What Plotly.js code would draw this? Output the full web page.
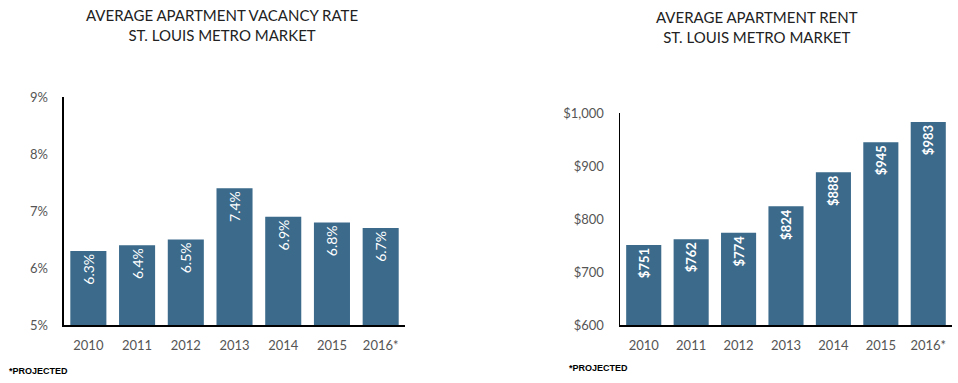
<!DOCTYPE html>
<html>
<head>
<meta charset="utf-8">
<script src="https://cdn.plot.ly/plotly-3.0.1.min.js"></script>
<style>html,body{margin:0;padding:0;background:#fff}#chart{width:958px;height:383px}</style>
</head>
<body>
<div id="chart"></div>
<script>
const years = ['2010', '2011', '2012', '2013', '2014', '2015', '2016*'];
const vacancyRate = [6.3, 6.4, 6.5, 7.4, 6.9, 6.8, 6.7];
const avgRent = [751, 762, 774, 824, 888, 945, 983];
const vacancyTicks = [5, 6, 7, 8, 9];
const vacancyTickText = ['5%', '6%', '7%', '8%', '9%'];
const rentTicks = [600, 700, 800, 900, 1000];
const rentTickText = ['$600', '$700', '$800', '$900', '$1,000'];

const barColor = '#3b6a8b';
const fontFam = 'Lato, "Open Sans", sans-serif';

const traces = [
  {
    type: 'bar', x: years, y: vacancyRate, xaxis: 'x', yaxis: 'y',
    marker: {color: barColor},
    texttemplate: '%{y:.1f}%', textposition: 'inside', insidetextanchor: 'end',
    textangle: -90, textfont: {color: '#ffffff', size: 14, family: fontFam},
    hoverinfo: 'x+y'
  },
  {
    type: 'bar', x: years, y: avgRent, xaxis: 'x2', yaxis: 'y2',
    marker: {color: barColor},
    texttemplate: '$%{y:.0f}', textposition: 'inside', insidetextanchor: 'end',
    textangle: -90, textfont: {color: '#ffffff', size: 13, family: fontFam, weight: 'bold'},
    hoverinfo: 'x+y'
  }
];

const axisCommon = {
  showline: true, linecolor: '#000', linewidth: 1.5, showgrid: false, zeroline: false,
  ticks: '', tickfont: {family: fontFam, size: 13, color: '#555'}, fixedrange: true
};

const layout = {
  width: 958, height: 383,
  margin: {l: 0, r: 0, t: 0, b: 0},
  paper_bgcolor: '#fff', plot_bgcolor: '#fff',
  showlegend: false, bargap: 0.26,
  font: {family: fontFam},
  xaxis: Object.assign({}, axisCommon, {type: 'category', domain: [0.0668, 0.4228], anchor: 'y', ticklabelstandoff: 8}),
  yaxis: Object.assign({}, axisCommon, {domain: [0.1514, 0.7467], anchor: 'x', range: [5, 9],
    tickmode: 'array', tickvals: vacancyTicks, ticktext: vacancyTickText, ticklabelstandoff: 12}),
  xaxis2: Object.assign({}, axisCommon, {type: 'category', domain: [0.6472, 0.9937], anchor: 'y2', ticklabelstandoff: 8}),
  yaxis2: Object.assign({}, axisCommon, {domain: [0.1514, 0.705], anchor: 'x2', range: [600, 1000],
    tickmode: 'array', tickvals: rentTicks, ticktext: rentTickText, ticklabelstandoff: 12}),
  annotations: [
    {text: 'AVERAGE APARTMENT VACANCY RATE<br>ST. LOUIS METRO MARKET', xref: 'paper', yref: 'paper',
     x: 222/958, y: 1 - 4/383, xanchor: 'center', yanchor: 'top', showarrow: false,
     font: {family: fontFam, size: 15, color: '#222'}, align: 'center'},
    {text: 'AVERAGE APARTMENT RENT<br>ST. LOUIS METRO MARKET', xref: 'paper', yref: 'paper',
     x: 757/958, y: 1 - 6/383, xanchor: 'center', yanchor: 'top', showarrow: false,
     font: {family: fontFam, size: 15, color: '#222'}, align: 'center'},
    {text: '*PROJECTED', xref: 'paper', yref: 'paper', x: 7/958, y: 1 - 371/383,
     xanchor: 'left', yanchor: 'middle', showarrow: false,
     font: {family: '"Liberation Sans", Arial, sans-serif', size: 9, color: '#000', weight: 'bold'}},
    {text: '*PROJECTED', xref: 'paper', yref: 'paper', x: 567/958, y: 1 - 368/383,
     xanchor: 'left', yanchor: 'middle', showarrow: false,
     font: {family: '"Liberation Sans", Arial, sans-serif', size: 9, color: '#000', weight: 'bold'}}
  ]
};

Plotly.newPlot('chart', traces, layout, {displayModeBar: false, staticPlot: true});
</script>
</body>
</html>
